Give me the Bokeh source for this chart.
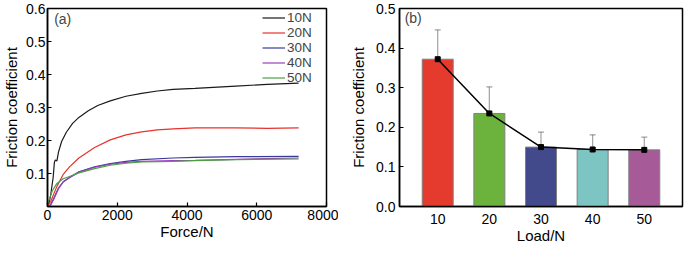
from bokeh.plotting import figure
from bokeh.layouts import row
from bokeh.models import (Range1d, FixedTicker, PrintfTickFormatter, NumeralTickFormatter,
                          ColumnDataSource, Whisker, TeeHead, Label, Legend, LegendItem)
from bokeh.embed import file_html
from bokeh.resources import INLINE

FONT = "Liberation Sans"

# ---------------- panel (a) data ----------------
x_10 = [0, 45, 90, 162, 198, 225, 270, 315, 405, 540, 720, 900, 1170, 1440, 1800, 2250, 2700, 3150, 3600, 4230, 5400, 6300, 7200]
y_10 = [0.0, 0.012, 0.034, 0.088, 0.134, 0.141, 0.138, 0.165, 0.197, 0.225, 0.252, 0.27, 0.29, 0.306, 0.32, 0.334, 0.343, 0.35, 0.355, 0.358, 0.365, 0.370, 0.374]
x_20 = [0, 90, 270, 450, 630, 900, 1350, 1800, 2250, 2700, 3150, 3600, 4230, 5400, 6300, 7200]
y_20 = [0.003, 0.015, 0.061, 0.097, 0.12, 0.147, 0.179, 0.202, 0.217, 0.226, 0.232, 0.235, 0.238, 0.238, 0.237, 0.238]
x_30 = [0, 90, 180, 315, 450, 630, 900, 1350, 1800, 2250, 2700, 3600, 4230, 5400, 7200]
y_30 = [0.0, 0.006, 0.025, 0.056, 0.075, 0.088, 0.105, 0.12, 0.130, 0.137, 0.142, 0.147, 0.149, 0.151, 0.152]
x_40 = [0, 90, 180, 315, 450, 630, 900, 1350, 1800, 2250, 2700, 3600, 4230, 5400, 7200]
y_40 = [0.0, 0.004, 0.022, 0.054, 0.074, 0.087, 0.104, 0.119, 0.128, 0.134, 0.137, 0.139, 0.140, 0.143, 0.147]
x_50 = [0, 45, 135, 270, 450, 630, 900, 1350, 1800, 2250, 2700, 3600, 4230, 5400, 7200]
y_50 = [0.008, 0.02, 0.047, 0.07, 0.084, 0.091, 0.102, 0.115, 0.125, 0.131, 0.135, 0.137, 0.139, 0.142, 0.144]
series_labels = ["10N", "20N", "30N", "40N", "50N"]
series_colors = ["#1a1a1a", "#e8322b", "#3a3a9a", "#9a3fb8", "#4e9e44"]
xa_ticks = [0, 2000, 4000, 6000, 8000]
ya_ticks = [0.1, 0.2, 0.3, 0.4, 0.5, 0.6]

# ---------------- panel (b) data ----------------
loads = ["10", "20", "30", "40", "50"]
load_pos = [1, 2, 3, 4, 5]
mean_cof = [0.372, 0.235, 0.150, 0.144, 0.143]
err_upper = [0.446, 0.302, 0.188, 0.181, 0.175]
err_lower = [0.300, 0.170, 0.112, 0.107, 0.112]
bar_colors = ["#e53b2f", "#6cb33e", "#434a8c", "#7cc5c2", "#a65a98"]
yb_ticks = [0.0, 0.1, 0.2, 0.3, 0.4, 0.5]


def style(p):
    p.xgrid.visible = False
    p.ygrid.visible = False
    p.outline_line_color = "black"
    p.outline_line_width = 1.5
    p.outline_line_alpha = 1
    p.background_fill_color = "white"
    p.border_fill_color = "white"
    for ax in (p.xaxis[0], p.yaxis[0]):
        ax.axis_line_width = 1.5
        ax.axis_line_color = "black"
        ax.major_tick_in = 4
        ax.major_tick_out = 0
        ax.major_tick_line_width = 1.2
        ax.minor_tick_line_color = None
        ax.major_label_text_font = FONT
        ax.major_label_text_font_size = "14px"
        ax.major_label_text_color = "black"
        ax.axis_label_text_font = FONT
        ax.axis_label_text_font_size = "15px"
        ax.axis_label_text_font_style = "normal"
        ax.axis_label_text_color = "black"


# ---------------- panel (a) ----------------
pa = figure(width=338, height=246, output_backend="svg", toolbar_location=None,
            x_range=Range1d(0, 8000), y_range=Range1d(0, 0.6),
            min_border_left=44, min_border_right=12, min_border_top=8, min_border_bottom=38)
style(pa)
pa.xaxis.axis_label = "Force/N"
pa.yaxis.axis_label = "Friction coefficient"
pa.xaxis.ticker = FixedTicker(ticks=xa_ticks)
pa.xaxis.formatter = NumeralTickFormatter(format="0")
pa.yaxis.ticker = FixedTicker(ticks=ya_ticks)
pa.yaxis.formatter = PrintfTickFormatter(format="%.1f")
pa.yaxis.major_label_standoff = 2
pa.yaxis.axis_label_standoff = 3
pa.xaxis.major_label_standoff = 3
pa.xaxis.axis_label_standoff = 0

xs = [x_10, x_20, x_30, x_40, x_50]
ys = [y_10, y_20, y_30, y_40, y_50]
items = []
for xv, yv, lab, col in zip(xs, ys, series_labels, series_colors):
    r = pa.line(xv, yv, line_color=col, line_width=1.2)
    items.append(LegendItem(label=lab, renderers=[r]))
leg = Legend(items=items, location="top_right", border_line_color=None,
             background_fill_alpha=0, padding=0, spacing=0, margin=2,
             label_height=13, glyph_height=13, glyph_width=23, label_standoff=2,
             label_width=37, label_text_font=FONT, label_text_font_size="13.5px",
             label_text_line_height=1.0)
pa.add_layout(leg)
pa.add_layout(Label(x=190, y=0.568, text="(a)", text_font=FONT, text_font_size="14px",
                    text_baseline="middle", text_align="left"))

# ---------------- panel (b) ----------------
pb = figure(width=346, height=246, output_backend="svg", toolbar_location=None,
            x_range=Range1d(0.26, 5.74), y_range=Range1d(0, 0.5),
            min_border_left=61, min_border_right=2, min_border_top=8, min_border_bottom=38)
style(pb)
pb.xaxis.axis_label = "Load/N"
pb.yaxis.axis_label = "Friction coefficient"
pb.xaxis.ticker = FixedTicker(ticks=load_pos)
pb.xaxis.major_label_overrides = {p: l for p, l in zip(load_pos, loads)}
pb.xaxis.major_tick_line_color = None
pb.yaxis.ticker = FixedTicker(ticks=yb_ticks)
pb.yaxis.formatter = PrintfTickFormatter(format="%.1f")
pb.yaxis.major_label_standoff = 4
pb.yaxis.axis_label_standoff = 6
pb.xaxis.major_label_standoff = 7
pb.xaxis.axis_label_standoff = 0

src = ColumnDataSource(dict(x=load_pos, top=mean_cof, color=bar_colors,
                            upper=err_upper, lower=err_lower))
pb.vbar(x="x", top="top", width=0.6, fill_color="color", line_color="#808080",
        line_width=1, source=src)
wk = Whisker(base="x", upper="upper", lower="lower", source=src,
             line_color="#555555", line_alpha=0.55, line_width=1.2,
             upper_head=TeeHead(size=6, line_color="#555555", line_alpha=0.55, line_width=1.2),
             lower_head=TeeHead(size=6, line_color="#555555", line_alpha=0.55, line_width=1.2))
pb.add_layout(wk)
pb.line(load_pos, mean_cof, line_color="black", line_width=1.5)
pb.scatter(load_pos, mean_cof, marker="square", size=5, color="black")
pb.add_layout(Label(x=0.36, y=0.475, text="(b)", text_font=FONT, text_font_size="14px",
                    text_baseline="middle", text_align="left"))

layout = row(pa, pb, spacing=0)
open("out.html", "w").write(file_html(layout, INLINE))
